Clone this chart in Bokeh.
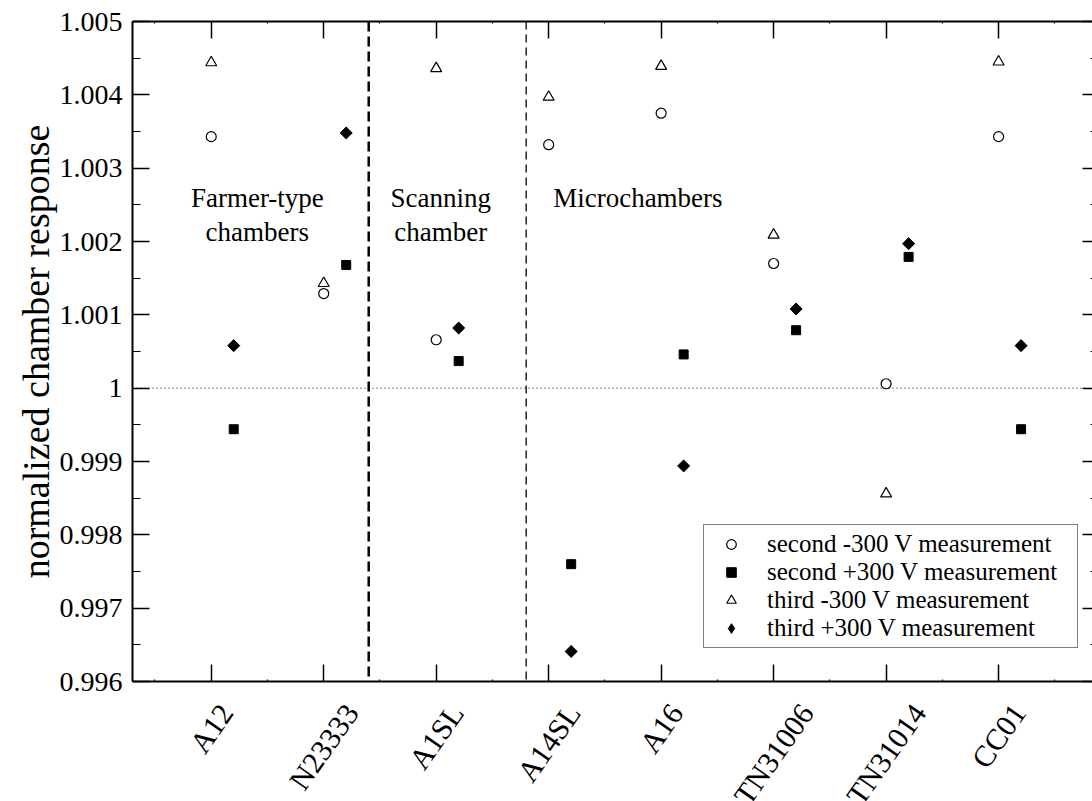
import math
from bokeh.plotting import figure
from bokeh.layouts import column
from bokeh.models import (Range1d, LinearAxis, FixedTicker, Span, Label, Legend, LegendItem)
from bokeh.embed import file_html
from bokeh.resources import INLINE

# ---------------- data ----------------
chambers = ["A12", "N23333", "A1SL", "A14SL", "A16", "TN31006", "TN31014", "CC01"]
chamber_pos = [1, 2, 3, 4, 5, 6, 7, 8]
second_neg = [1.00343, 1.00129, 1.00066, 1.00332, 1.00375, 1.00170, 1.00006, 1.00343]
second_pos = [0.99944, 1.00168, 1.00037, 0.99760, 1.00046, 1.00079, 1.00179, 0.99944]
third_neg = [1.00444, 1.00143, 1.00436, 1.00397, 1.00439, 1.00209, 0.99856, 1.00445]
third_pos = [1.00058, 1.00348, 1.00082, 0.99641, 0.99894, 1.00108, 1.00197, 1.00058]
y_ticks = [0.996, 0.997, 0.998, 0.999, 1.0, 1.001, 1.002, 1.003, 1.004, 1.005]
y_tick_labels = ["0.996", "0.997", "0.998", "0.999", "1", "1.001", "1.002", "1.003", "1.004", "1.005"]
y_minor = [0.9965, 0.9975, 0.9985, 0.9995, 1.0005, 1.0015, 1.0025, 1.0035, 1.0045]
x_minor = [0.5, 1.5, 2.5, 3.5, 4.5, 5.5, 6.5, 7.5, 8.5]
group_dividers = [2.4, 3.8]
series_labels = ["second -300 V measurement", "second +300 V measurement",
                 "third -300 V measurement", "third +300 V measurement"]
pos_offset = 0.2  # +300 V points drawn slightly right of the chamber tick

FONT = "Liberation Serif"
Y0, Y1 = 0.996, 1.005
BOTTOM_PAD = 16

p = figure(frame_width=960, frame_height=660,
           x_range=Range1d(0.3, 8.835), y_range=Range1d(Y0, Y1),
           x_axis_type=None, y_axis_type=None,
           output_backend="svg", toolbar_location=None,
           min_border_left=132, min_border_right=0, min_border_top=21,
           min_border_bottom=BOTTOM_PAD)
p.outline_line_color = None
p.grid.visible = False
p.background_fill_color = "white"
p.border_fill_color = "white"

xt = FixedTicker(ticks=chamber_pos, minor_ticks=x_minor)
yt = FixedTicker(ticks=y_ticks, minor_ticks=y_minor)


def style_axis(ax, major_in=17, minor_in=8):
    ax.axis_line_width = 2
    ax.axis_line_color = "black"
    ax.major_tick_in = major_in
    ax.major_tick_out = 0
    ax.minor_tick_in = minor_in
    ax.minor_tick_out = 0
    ax.major_tick_line_width = 1.5
    ax.minor_tick_line_width = 1.2
    ax.major_tick_line_color = "black"
    ax.minor_tick_line_color = "black"


bottom = LinearAxis(ticker=xt)
style_axis(bottom, 17, 2)
bottom.major_label_text_font_size = "0px"
bottom.major_label_text_color = None
bottom.major_label_standoff = 0
p.add_layout(bottom, "below")

top = LinearAxis(ticker=xt)
style_axis(top, 17, 2)
top.major_label_text_font_size = "0px"
top.major_label_text_color = None
p.add_layout(top, "above")

left = LinearAxis(ticker=yt)
style_axis(left, 17, 8)
left.major_label_overrides = {v: s for v, s in zip(y_ticks, y_tick_labels)}
left.major_label_text_font = FONT
left.major_label_text_font_size = "28px"
left.major_label_text_color = "black"
left.major_label_standoff = 10
left.axis_label = "normalized chamber response"
left.axis_label_text_font = FONT
left.axis_label_text_font_size = "38px"
left.axis_label_text_font_style = "normal"
left.axis_label_text_color = "black"
left.axis_label_standoff = 0
p.add_layout(left, "left")

right = LinearAxis(ticker=yt)
style_axis(right, 10, 2)
right.axis_line_color = None
right.major_label_text_font_size = "0px"
right.major_label_text_color = None
p.add_layout(right, "right")

# reference line and group dividers
p.add_layout(Span(location=1.0, dimension="width", line_color="black",
                  line_width=1, line_dash="1 3"))
p.add_layout(Span(location=group_dividers[0], dimension="height", line_color="black",
                  line_width=2.5, line_dash="10 5"))
p.add_layout(Span(location=group_dividers[1], dimension="height", line_color="black",
                  line_width=1.3, line_dash="8 5"))

xpos = [x + pos_offset for x in chamber_pos]
r1 = p.scatter(chamber_pos, second_neg, marker="circle", size=10,
               fill_color="white", line_color="black", line_width=1.2)
r2 = p.scatter(xpos, second_pos, marker="square", size=9,
               fill_color="black", line_color="black", line_width=1)
r3 = p.scatter(chamber_pos, third_neg, marker="triangle", size=11,
               fill_color="white", line_color="black", line_width=1.2)
r4 = p.scatter(xpos, third_pos, marker="square", angle=0.785398, size=8.5,
               fill_color="black", line_color="black", line_width=1)
# legend swatch (diamond shape) for the same series; not drawn in the plot itself
r4_key = p.scatter(xpos, third_pos, marker="diamond", size=13,
                   fill_color="black", line_color="black", line_width=1, visible=False)

# group annotations
def add_text(x, y, txt, align="center"):
    p.add_layout(Label(x=x, y=y, text=txt, text_font=FONT, text_font_size="27px",
                       text_align=align, text_baseline="alphabetic", text_color="black"))

add_text(1.41, 1.002587, "Farmer-type")
add_text(1.41, 1.002123, "chambers")
add_text(3.04, 1.002587, "Scanning")
add_text(3.04, 1.002123, "chamber")
add_text(4.04, 1.002587, "Microchambers", align="left")

legend = Legend(items=[LegendItem(label=series_labels[0], renderers=[r1]),
                       LegendItem(label=series_labels[1], renderers=[r2]),
                       LegendItem(label=series_labels[2], renderers=[r3]),
                       LegendItem(label=series_labels[3], renderers=[r4_key])],
                location=(571, 33))
legend.label_text_font = FONT
legend.label_text_font_size = "25px"
legend.label_text_line_height = 0.9
legend.label_text_color = "black"
legend.label_height = 26
legend.glyph_height = 24
legend.glyph_width = 44
legend.label_standoff = 14
legend.label_width = 305
legend.spacing = 0
legend.padding = 5
legend.margin = 0
legend.inactive_fill_alpha = 0
legend.border_line_color = "black"
legend.border_line_width = 1.5
legend.background_fill_alpha = 1
p.add_layout(legend)

# ---- strip below the frame with the rotated chamber names, centred under ticks ----
STRIP_H = 801 - 21 - 660 - BOTTOM_PAD
ANG = 0.96
LAB_PX = 30
char_w = {"A": 0.722, "N": 0.722, "S": 0.556, "L": 0.611, "T": 0.611, "C": 0.667}
label_offsets = [LAB_PX * sum(char_w.get(ch, 0.5) for ch in name) / 2 * math.cos(ANG)
                 for name in chambers]
anchor_depth = 1 + LAB_PX * math.cos(ANG) / 2

p2 = figure(frame_width=960, frame_height=STRIP_H,
            x_range=p.x_range, y_range=Range1d(0, STRIP_H),
            x_axis_type=None, y_axis_type=None,
            output_backend="svg", toolbar_location=None,
            min_border_left=132, min_border_right=0, min_border_top=0, min_border_bottom=0)
p2.outline_line_color = None
p2.grid.visible = False
p2.background_fill_color = "white"
p2.border_fill_color = "white"
p2.text(x=chamber_pos, y=[STRIP_H - anchor_depth] * len(chambers), text=chambers,
        x_offset=label_offsets, angle=ANG, text_align="right", text_baseline="middle",
        text_font=FONT, text_font_size=f"{LAB_PX}px", text_color="black")

layout = column(p, p2, spacing=0)
open("out.html", "w").write(file_html(layout, INLINE))
